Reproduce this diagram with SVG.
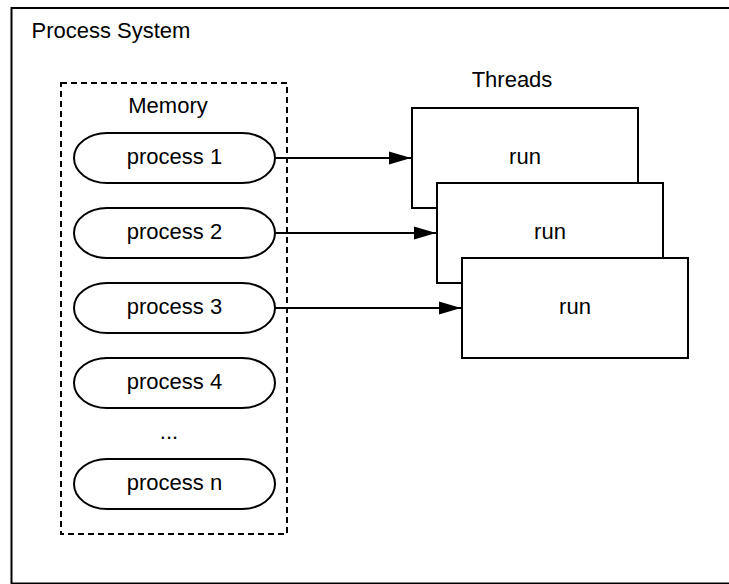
<svg xmlns="http://www.w3.org/2000/svg" width="729" height="584" viewBox="0 0 729 584">
  <style>
    text { font-family: "Liberation Sans", Arial, sans-serif; font-size: 22px; fill: #000; }
    .mid { text-anchor: middle; }
    .frame { fill: #fff; stroke: #000; stroke-width: 2; }
    .memory { fill: none; stroke: #000; stroke-width: 2; stroke-dasharray: 6 4; }
    .proc { fill: #fff; stroke: #000; stroke-width: 2; }
    .thread { fill: #fff; stroke: #000; stroke-width: 2; }
    .link { fill: none; stroke: #000; stroke-width: 2; marker-end: url(#arrow); }
  </style>
  <defs>
    <marker id="arrow" markerUnits="userSpaceOnUse" markerWidth="22" markerHeight="14" refX="22" refY="7" orient="auto">
      <path d="M0,0.5 L22,7 L0,13.5 Z" fill="#000"/>
    </marker>
  </defs>

  <rect width="729" height="584" fill="#fff"/>

  <!-- outer process system frame -->
  <g id="process-system">
    <rect class="frame" x="11.5" y="8" width="730" height="575.5"/>
    <text x="31.5" y="37.5">Process System</text>
  </g>

  <!-- memory region -->
  <g id="memory">
    <rect class="memory" x="61" y="83" width="226" height="451"/>
    <text class="mid" x="168" y="113">Memory</text>
  </g>

  <g id="process-1">
    <rect class="proc" x="74" y="133" width="201" height="50" rx="33" ry="25"/>
    <text class="mid" x="174.5" y="163.5">process 1</text>
  </g>
  <g id="process-2">
    <rect class="proc" x="74" y="208" width="201" height="50" rx="33" ry="25"/>
    <text class="mid" x="174.5" y="238.5">process 2</text>
  </g>
  <g id="process-3">
    <rect class="proc" x="74" y="283" width="201" height="50" rx="33" ry="25"/>
    <text class="mid" x="174.5" y="313.5">process 3</text>
  </g>
  <g id="process-4">
    <rect class="proc" x="74" y="358" width="201" height="50" rx="33" ry="25"/>
    <text class="mid" x="174.5" y="388.5">process 4</text>
  </g>
  <g id="ellipsis">
    <text class="mid" x="169" y="438.5">...</text>
  </g>
  <g id="process-n">
    <rect class="proc" x="74" y="459" width="201" height="50" rx="33" ry="25"/>
    <text class="mid" x="174.5" y="489.5">process n</text>
  </g>

  <!-- threads, stacked back to front -->
  <g id="threads-label">
    <text class="mid" x="512" y="87">Threads</text>
  </g>
  <g id="thread-1">
    <rect class="thread" x="412" y="108" width="226" height="100"/>
    <text class="mid" x="525" y="163.5">run</text>
  </g>
  <g id="thread-2">
    <rect class="thread" x="437" y="183" width="226" height="100"/>
    <text class="mid" x="550" y="238.5">run</text>
  </g>
  <g id="thread-3">
    <rect class="thread" x="462" y="258" width="226" height="100"/>
    <text class="mid" x="575" y="313.5">run</text>
  </g>

  <!-- connectors -->
  <g id="connectors">
    <line class="link" x1="275" y1="158" x2="411" y2="158"/>
    <line class="link" x1="275" y1="233" x2="436" y2="233"/>
    <line class="link" x1="275" y1="308" x2="461" y2="308"/>
  </g>
</svg>
